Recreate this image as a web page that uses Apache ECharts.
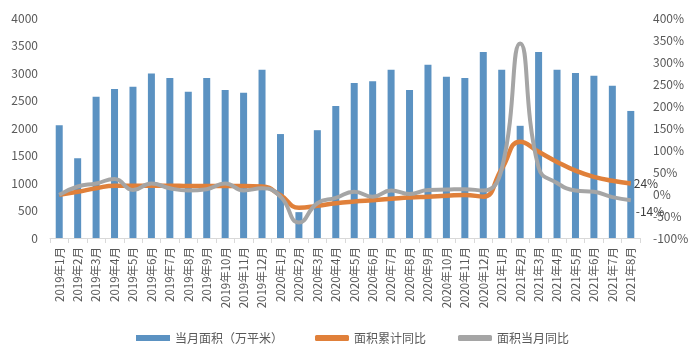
<!DOCTYPE html>
<html>
<head>
<meta charset="utf-8">
<script src="https://cdn.jsdelivr.net/npm/echarts@6/dist/echarts.min.js"></script>
<style>html,body{margin:0;padding:0;background:#fff;}#c{width:697px;height:360px;}</style>
</head>
<body>
<div id="c"></div>
<script>
var categories = ['2019年1月','2019年2月','2019年3月','2019年4月','2019年5月','2019年6月','2019年7月','2019年8月','2019年9月','2019年10月','2019年11月','2019年12月',
  '2020年1月','2020年2月','2020年3月','2020年4月','2020年5月','2020年6月','2020年7月','2020年8月','2020年9月','2020年10月','2020年11月','2020年12月',
  '2021年1月','2021年2月','2021年3月','2021年4月','2021年5月','2021年6月','2021年7月','2021年8月'];
var monthlyArea = [2050,1450,2570,2710,2750,2990,2910,2660,2910,2690,2640,3060,1890,470,1960,2400,2820,2850,3060,2690,3150,2930,2910,3380,3060,2040,3380,3060,3000,2950,2770,2310];
var cumulativeYoY = [-2,5,13,19,19,19,19,18,18,18,18,17,-3,-31,-27,-21,-17,-14,-11,-8,-6,-4,-2,-6,57,119,96,73,53,39,30,24];
var monthlyYoY = [-2,17,24,34,9,24,13,8,11,24,8,13,-6,-65,-21,-9,5,-6,8,0,9,10,11,8,57,342,60,25,8,5,-7,-14];
var leftTicks = {min:0, max:4000, interval:500};
var rightTicks = {min:-100, max:400, interval:50};

var font = 'Noto Sans CJK SC';
var chart = echarts.init(document.getElementById('c'), null, {renderer:'canvas'});
var n = categories.length;
chart.setOption({
  animation:false,
  textStyle:{fontFamily:font},
  grid:{left:50, right:57, top:18, bottom:122, containLabel:false},
  legend:{
    left:131, top:327, itemGap:32, itemWidth:34, itemHeight:6,
    textStyle:{color:'#595959', fontSize:12, fontFamily:font},
    data:[
      {name:'当月面积（万平米）', icon:'rect'},
      {name:'面积累计同比', icon:'roundRect', itemStyle:{color:'#E0803A'}},
      {name:'面积当月同比', icon:'roundRect', itemStyle:{color:'#A5A5A5'}}
    ]
  },
  xAxis:{
    type:'category', data:categories, boundaryGap:true,
    axisLine:{show:true, lineStyle:{color:'#D9D9D9', width:1}},
    axisTick:{show:true, inside:false, length:5, lineStyle:{color:'#D9D9D9'}},
    axisLabel:{rotate:90, interval:0, color:'#595959', fontSize:11.5, margin:9, fontFamily:font}
  },
  yAxis:[
    {type:'value', min:leftTicks.min, max:leftTicks.max, interval:leftTicks.interval,
     splitLine:{show:false}, axisLine:{show:false}, axisTick:{show:false},
     axisLabel:{color:'#595959', fontSize:12, margin:12, fontFamily:font, formatter:function(v){return String(v);}}},
    {type:'value', min:rightTicks.min, max:rightTicks.max, interval:rightTicks.interval,
     splitLine:{show:false}, axisLine:{show:false}, axisTick:{show:false},
     axisLabel:{color:'#595959', fontSize:12, margin:13, formatter:'{value}%', fontFamily:font}}
  ],
  series:[
    {name:'当月面积（万平米）', type:'bar', data:monthlyArea, barWidth:7, yAxisIndex:0,
     itemStyle:{color:'#5B92C2'}},
    {name:'面积累计同比', type:'line', data:cumulativeYoY, yAxisIndex:1, smooth:true,
     showSymbol:false, symbol:'none', lineStyle:{color:'#E0803A', width:4.5}, itemStyle:{color:'#E0803A'},
     z:3,
     markPoint:{symbol:'circle', symbolSize:0,
       data:[{coord:[n-1, cumulativeYoY[n-1]], value:cumulativeYoY[n-1]}],
       label:{show:true, position:'right', offset:[-2,0], formatter:function(p){return p.value+'%';}, color:'#404040', fontSize:12, fontFamily:font}}},
    {name:'面积当月同比', type:'line', data:monthlyYoY, yAxisIndex:1, smooth:true,
     showSymbol:false, symbol:'none', lineStyle:{color:'#A5A5A5', width:4}, itemStyle:{color:'#A5A5A5'},
     z:4,
     markPoint:{symbol:'circle', symbolSize:0,
       data:[{coord:[n-1, monthlyYoY[n-1]], value:monthlyYoY[n-1]}],
       label:{show:true, position:'right', offset:[0,11], formatter:function(p){return p.value+'%';}, color:'#404040', fontSize:12, fontFamily:font}}}
  ]
});
</script>
</body>
</html>
